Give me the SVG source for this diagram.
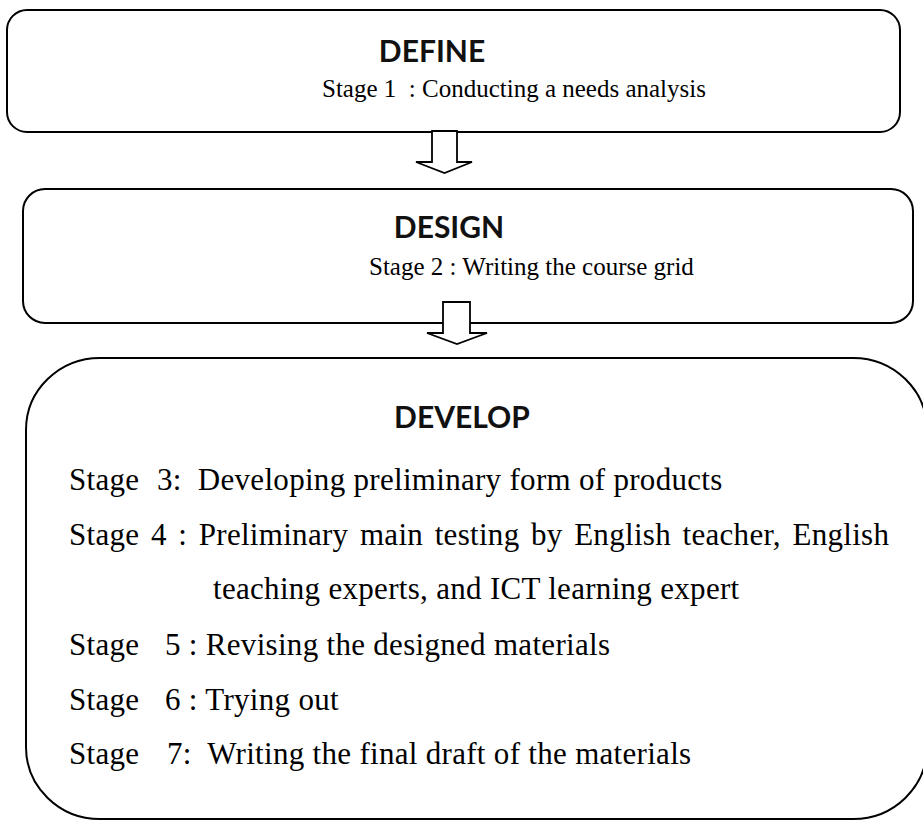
<svg xmlns="http://www.w3.org/2000/svg" width="923" height="821" viewBox="0 0 923 821">
<style>
.box{fill:#fff;stroke:#000;stroke-width:2}
.arrow{fill:#fff;stroke:#000;stroke-width:1.8;stroke-linejoin:miter}
.head{font-family:Lato,"Open Sans","DejaVu Sans",sans-serif;font-weight:bold;font-size:30px;fill:#111;text-anchor:middle}
.s25{font-family:"Liberation Serif","Times New Roman",serif;font-size:25px;fill:#000}
.s30{font-family:"Liberation Serif","Times New Roman",serif;font-size:31px;letter-spacing:0.3px;fill:#000}
</style>
<rect width="923" height="821" fill="#fff"/>
<g id="define">
<rect class="box" x="7" y="10" width="893" height="122" rx="20" ry="20"/>
<text class="head" x="432" y="62">DEFINE</text>
<text class="s25" x="322" y="97" xml:space="preserve">Stage 1  : Conducting a needs analysis</text>
</g>
<g id="design">
<rect class="box" x="23" y="189" width="890" height="134" rx="22" ry="22"/>
<text class="head" x="449" y="238">DESIGN</text>
<text class="s25" x="369" y="275">Stage 2 : Writing the course grid</text>
</g>
<g id="develop">
<path class="box" d="M100,358 H853 A74,72 0 0 1 927,430 V747 A74,72 0 0 1 853,819 H100 A74,72 0 0 1 26,747 V430 A74,72 0 0 1 100,358 Z"/>
<text class="head" x="462" y="428">DEVELOP</text>
<text class="s30" y="490"><tspan x="69">Stage</tspan><tspan x="157" xml:space="preserve">3:  Developing preliminary form of products</tspan></text>
<text class="s30" x="69" y="545" word-spacing="3.5">Stage 4 : Preliminary main testing by English teacher, English</text>
<text class="s30" x="213" y="599">teaching experts, and ICT learning expert</text>
<text class="s30" y="655"><tspan x="69">Stage</tspan><tspan x="165">5 : Revising the designed materials</tspan></text>
<text class="s30" y="710"><tspan x="69">Stage</tspan><tspan x="165">6 : Trying out</tspan></text>
<text class="s30" y="764"><tspan x="69">Stage</tspan><tspan x="167" xml:space="preserve">7:  Writing the final draft of the materials</tspan></text>
</g>
<g id="connectors">
<polygon class="arrow" points="432,131 457,131 457,162 472,162 444.5,173 416,162 432,162"/>
<polygon class="arrow" points="443,302 470,302 470,333 487,333 457,344 427,333 443,333"/>
</g>
</svg>
